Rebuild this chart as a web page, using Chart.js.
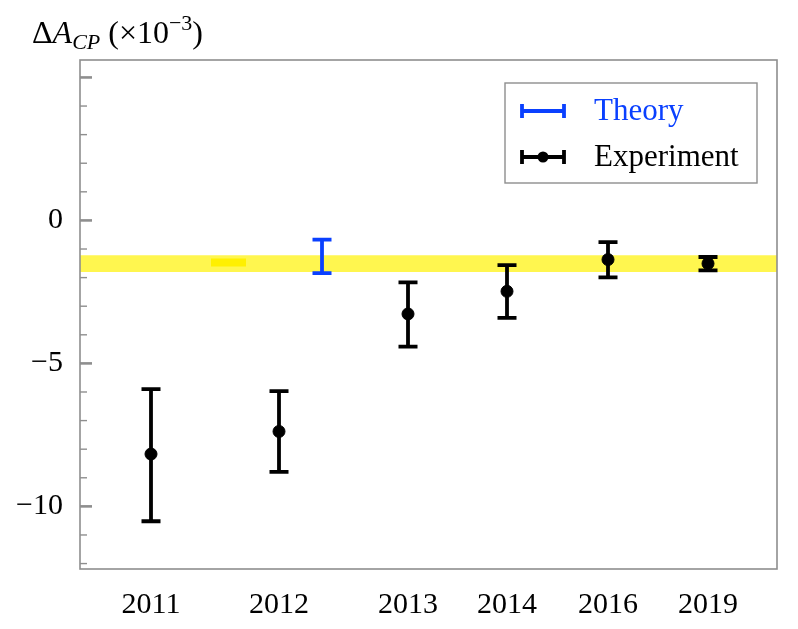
<!DOCTYPE html>
<html>
<head>
<meta charset="utf-8">
<script src="https://cdn.jsdelivr.net/npm/chart.js@4"></script>
<style>
  html, body { margin: 0; padding: 0; background: #fff; }
  #wrap { width: 798px; height: 629px; }
</style>
</head>
<body>
<div id="wrap"><canvas id="acpChart"></canvas></div>
<script>
// Measurements (values in units of 10^-3)
const years = ["2011", "2012", "2013", "2014", "2016", "2019"];
const xPos = [0.71, 1.99, 3.28, 4.27, 5.28, 6.28];
const expValues = [-8.17, -7.38, -3.27, -2.48, -1.37, -1.51];
const expErrUp = [2.27, 1.41, 1.10, 0.92, 0.61, 0.23];
const expErrDown = [2.35, 1.41, 1.14, 0.93, 0.62, 0.24];

// Theory prediction
const theoryX = [2.42];
const theoryValues = [-1.26];
const theoryErrUp = [0.59];
const theoryErrDown = [0.58];

// Average band
const bandHigh = -1.22;
const bandLow = -1.80;
const bandSmudgeX = [1.31, 1.66];
const bandSmudgeY = [-1.47, -1.47];

// Axis
const yTicks = [5, 4, 3, 2, 1, 0, -1, -2, -3, -4, -5, -6, -7, -8, -9, -10, -11, -12];
const yMajor = [5, 0, -5, -10];
const yLabelled = [0, -5, -10];
const xRange = [0, 6.97];
const yRange = [-12.19, 5.61];

const FONT = "'Liberation Serif', 'DejaVu Serif', serif";
const BLUE = "#0a40ff";
const FRAME = "#8e8e8e";

function minus(v) {
    return v < 0 ? "\u2212" + Math.abs(v) : String(v);
}

// draw error bars from the data arrays through the scales
const errorBars = {
    id: "errorBars",
    afterDatasetsDraw(chart) {
        const xs = chart.scales.x, ys = chart.scales.y;
        const ctx = chart.ctx;
        const draw = (xv, yv, up, down, color) => {
            const px = xs.getPixelForValue(xv);
            const top = ys.getPixelForValue(yv + up);
            const bot = ys.getPixelForValue(yv - down);
            ctx.save();
            ctx.strokeStyle = color;
            ctx.lineWidth = 3.8;
            ctx.beginPath();
            ctx.moveTo(px, top);
            ctx.lineTo(px, bot);
            ctx.moveTo(px - 9.5, top);
            ctx.lineTo(px + 9.5, top);
            ctx.moveTo(px - 9.5, bot);
            ctx.lineTo(px + 9.5, bot);
            ctx.stroke();
            ctx.restore();
        };
        xPos.forEach((x, i) => draw(x, expValues[i], expErrUp[i], expErrDown[i], "#000"));
        theoryX.forEach((x, i) => draw(x, theoryValues[i], theoryErrUp[i], theoryErrDown[i], BLUE));
    }
};

// frame, inward ticks, title and legend
const decorations = {
    id: "decorations",
    afterDraw(chart) {
        const ctx = chart.ctx;
        const a = chart.chartArea;
        const ys = chart.scales.y;
        ctx.save();
        ctx.strokeStyle = FRAME;
        ctx.lineWidth = 1.6;
        ctx.strokeRect(a.left, a.top, a.right - a.left, a.bottom - a.top);
        yTicks.forEach(v => {
            const major = yMajor.includes(v);
            const py = ys.getPixelForValue(v);
            ctx.lineWidth = major ? 2.6 : 1.4;
            ctx.beginPath();
            ctx.moveTo(a.left, py);
            ctx.lineTo(a.left + (major ? 12 : 7), py);
            ctx.stroke();
        });

        // title: ΔA_CP (×10^-3)
        ctx.fillStyle = "#000";
        ctx.textBaseline = "alphabetic";
        let x = 32;
        const base = 43;
        const seg = (text, style, size, dy) => {
            ctx.font = style + " " + size + "px " + FONT;
            ctx.fillText(text, x, base + dy);
            x += ctx.measureText(text).width;
        };
        seg("\u0394", "", 32, 0);
        seg("A", "italic", 32, 0);
        seg("CP", "italic", 22, 6);
        seg(" (\u00d710", "", 32, 0);
        seg("\u22123", "", 22, -13);
        seg(")", "", 32, 0);

        // legend
        const bx = a.right - 272, by = a.top + 23, bw = 252, bh = 100;
        ctx.strokeStyle = FRAME;
        ctx.lineWidth = 1.4;
        ctx.strokeRect(bx, by, bw, bh);
        const rows = [
            { label: chart.data.datasets[1].label, color: BLUE, dot: false, y: by + 28 },
            { label: chart.data.datasets[0].label, color: "#000", dot: true, y: by + 74 }
        ];
        rows.forEach(r => {
            const x0 = bx + 17, x1 = bx + 59;
            ctx.strokeStyle = r.color;
            ctx.lineWidth = 3.8;
            ctx.beginPath();
            ctx.moveTo(x0, r.y);
            ctx.lineTo(x1, r.y);
            ctx.moveTo(x0, r.y - 7);
            ctx.lineTo(x0, r.y + 7);
            ctx.moveTo(x1, r.y - 7);
            ctx.lineTo(x1, r.y + 7);
            ctx.stroke();
            if (r.dot) {
                ctx.fillStyle = r.color;
                ctx.beginPath();
                ctx.arc((x0 + x1) / 2, r.y, 5.5, 0, Math.PI * 2);
                ctx.fill();
            }
            ctx.fillStyle = r.color;
            ctx.font = "31px " + FONT;
            ctx.textBaseline = "middle";
            ctx.fillText(r.label, bx + 89, r.y + 1);
        });
        ctx.restore();
    }
};

function renderChart() {
    const ctx = document.getElementById("acpChart").getContext("2d");

    new Chart(ctx, {
        type: "scatter",
        data: {
            datasets: [
                {
                    label: "Experiment",
                    data: xPos.map((x, i) => ({ x: x, y: expValues[i] })),
                    backgroundColor: "#000",
                    borderColor: "#000",
                    pointRadius: 6,
                    pointHoverRadius: 6,
                },
                {
                    label: "Theory",
                    data: theoryX.map((x, i) => ({ x: x, y: theoryValues[i] })),
                    pointRadius: 0,
                    borderColor: BLUE,
                },
                {
                    label: "smudge",
                    type: "line",
                    data: bandSmudgeX.map((x, i) => ({ x: x, y: bandSmudgeY[i] })),
                    borderColor: "#fff000",
                    borderWidth: 8,
                    pointRadius: 0,
                },
                {
                    label: "bandHigh",
                    type: "line",
                    data: xRange.map(x => ({ x: x, y: bandHigh })),
                    borderWidth: 0,
                    pointRadius: 0,
                    fill: "+1",
                    backgroundColor: "#fff64f",
                },
                {
                    label: "bandLow",
                    type: "line",
                    data: xRange.map(x => ({ x: x, y: bandLow })),
                    borderWidth: 0,
                    pointRadius: 0,
                },
            ],
        },
        options: {
            responsive: true,
            maintainAspectRatio: false,
            animation: false,
            layout: { padding: { left: 0, right: 21, top: 60, bottom: 0 } },
            plugins: {
                legend: { display: false },
                tooltip: { enabled: false },
            },
            scales: {
                x: {
                    type: "linear",
                    min: xRange[0],
                    max: xRange[1],
                    grid: { display: false, drawTicks: false },
                    border: { display: false },
                    afterBuildTicks: scale => {
                        scale.ticks = xPos.map(v => ({ value: v }));
                    },
                    afterFit: scale => { scale.height = 60; },
                    ticks: {
                        autoSkip: false,
                        maxRotation: 0,
                        padding: 18,
                        color: "#000",
                        font: { family: FONT, size: 30 },
                        callback: (v) => years[xPos.indexOf(v)] || "",
                    },
                },
                y: {
                    min: yRange[0],
                    max: yRange[1],
                    grid: { display: false, drawTicks: false },
                    border: { display: false },
                    afterBuildTicks: scale => {
                        scale.ticks = yTicks.map(v => ({ value: v }));
                    },
                    afterFit: scale => { scale.width = 80; },
                    ticks: {
                        autoSkip: false,
                        padding: 17,
                        color: "#000",
                        font: { family: FONT, size: 30 },
                        callback: (v) => yLabelled.includes(v) ? minus(v) : "",
                    },
                },
            },
        },
        plugins: [errorBars, decorations],
    });
}

document.addEventListener("DOMContentLoaded", () => {
    renderChart();
});
</script>
</body>
</html>
